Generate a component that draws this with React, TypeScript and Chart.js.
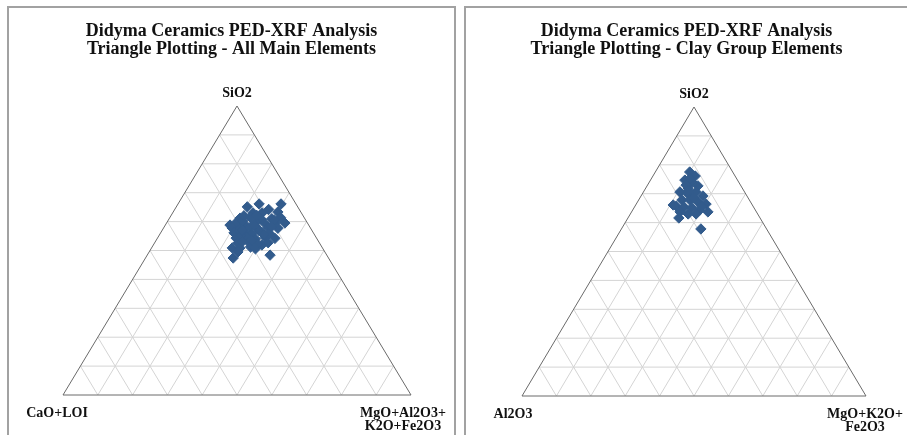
import React, { useEffect, useRef } from "react";
import { Chart, registerables } from "chart.js";

Chart.register(...registerables);

// ---- Panel 1: All main elements (percent) ----
const allSiO2 = [
  65.1, 66.1, 66.1, 63.3, 63.0, 63.0, 58.8, 59.5, 48.4, 50.9, 47.4, 51.9,
  61.2, 61.5, 60.8, 61.0, 61.4, 59.5, 59.2, 59.8, 59.4, 59.6, 57.8, 57.5,
  58.0, 57.6, 57.9, 57.7, 56.1, 56.4, 55.8, 56.2, 55.9, 54.3, 54.6, 54.0,
  54.5, 54.2, 52.6, 52.9, 52.3, 52.7, 50.9, 51.2, 50.6, 62.2, 60.3, 58.5,
  56.8, 55.2, 53.5, 57.0, 55.5, 60.5, 64.2, 49.5, 53.0, 58.2, 62.0,
];
const allCaOLOI = [
  14.5, 10.6, 4.3, 6.6, 13.9, 11.3, 22.6, 6.5, 16.3, 25.9, 27.4, 16.9,
  18.5, 15.4, 12.6, 9.5, 6.8, 20.6, 18.3, 14.8, 12.3, 9.2, 22.5, 20.5,
  17.2, 15.3, 12.1, 9.4, 22.8, 19.6, 17.9, 14.7, 12.7, 23.1, 20.0, 17.7,
  14.6, 12.0, 23.4, 20.2, 18.0, 14.7, 23.7, 20.5, 19.4, 13.3, 18.2, 15.5,
  15.2, 21.3, 19.0, 20.0, 14.5, 9.0, 8.8, 25.0, 22.0, 11.0, 17.0,
];
const allMgOAl2O3K2OFe2O3 = [
  20.4, 23.3, 29.6, 30.1, 23.1, 25.7, 18.6, 34.0, 35.3, 23.2, 25.2, 31.2,
  20.3, 23.1, 26.6, 29.5, 31.8, 19.9, 22.5, 25.4, 28.3, 31.2, 19.7, 22.0,
  24.8, 27.1, 30.0, 32.9, 21.1, 24.0, 26.3, 29.1, 31.4, 22.6, 25.4, 28.3,
  30.9, 33.8, 24.0, 26.9, 29.7, 32.6, 25.4, 28.3, 30.0, 24.5, 21.5, 26.0,
  28.0, 23.5, 27.5, 23.0, 30.0, 30.5, 27.0, 25.5, 25.0, 30.8, 21.0,
];

// ---- Panel 2: Clay group elements ----
const claySiO2 = [
  77.5, 76.1, 74.7, 74.0, 72.0, 72.7, 70.6, 69.9, 70.6, 69.2, 67.8, 67.8,
  67.1, 66.4, 65.7, 65.4, 65.1, 64.4, 63.7, 63.0, 63.0, 61.6, 57.8, 66.1,
  73.0, 68.5, 65.7, 63.7, 71.2, 75.3,
];
const clayAl2O3 = [
  12.5, 11.6, 15.3, 13.6, 15.7, 12.5, 18.8, 16.8, 14.1, 12.8, 19.6, 17.3,
  15.3, 13.3, 22.3, 20.2, 18.1, 16.1, 14.1, 20.2, 17.9, 23.6, 19.1, 23.0,
  15.8, 15.8, 14.9, 22.2, 16.0, 13.5,
];
const clayMgOK2OFe2O3 = [
  10.0, 12.3, 10.0, 12.4, 12.3, 14.8, 10.6, 13.3, 15.3, 18.0, 12.6, 14.9,
  17.6, 20.3, 12.0, 14.4, 16.8, 19.5, 22.2, 16.8, 19.1, 14.8, 23.1, 10.9,
  11.2, 15.7, 19.4, 14.1, 12.8, 11.2,
];

const title1 = ["Didyma Ceramics PED-XRF Analysis", "Triangle Plotting - All Main Elements"];
const title2 = ["Didyma Ceramics PED-XRF Analysis", "Triangle Plotting - Clay Group Elements"];
const topLabel = "SiO2";
const left1 = ["CaO+LOI"];
const right1 = ["MgO+Al2O3+", "K2O+Fe2O3"];
const left2 = ["Al2O3"];
const right2 = ["MgO+K2O+", "Fe2O3"];

const GRID_STEPS = 10;
const SERIF = '"Liberation Serif", "Times New Roman", serif';

function toXY(top: number[], left: number[], right: number[]) {
  return top.map((s, i) => {
    const sum = s + left[i] + right[i];
    const ts = s / sum;
    const tr = right[i] / sum;
    return { x: tr + ts / 2, y: ts };
  });
}

const ternaryPlugin = {
  id: "ternary",
  beforeDatasetsDraw(chart: any) {
    const { ctx } = chart;
    const xs = chart.scales.x;
    const ys = chart.scales.y;
    const P = (r: number, s: number) => [xs.getPixelForValue(r + s / 2), ys.getPixelForValue(s)];
    const line = (a: number[], b: number[]) => {
      ctx.beginPath();
      ctx.moveTo(a[0], a[1]);
      ctx.lineTo(b[0], b[1]);
      ctx.stroke();
    };
    ctx.save();
    ctx.strokeStyle = "#d4d4d4";
    ctx.lineWidth = 1;
    for (let i = 1; i < GRID_STEPS; i++) {
      const t = i / GRID_STEPS;
      line(P(0, t), P(1 - t, t));
      line(P(t, 0), P(t, 1 - t));
      line(P(1 - t, 0), P(0, 1 - t));
    }
    ctx.strokeStyle = "#6a6a6a";
    ctx.beginPath();
    const a = P(0, 0), b = P(1, 0), c = P(0, 1);
    ctx.moveTo(a[0], a[1]);
    ctx.lineTo(b[0], b[1]);
    ctx.lineTo(c[0], c[1]);
    ctx.closePath();
    ctx.stroke();
    ctx.restore();
  },
  afterDraw(chart: any, _args: any, opts: any) {
    const { ctx } = chart;
    const xs = chart.scales.x;
    const ys = chart.scales.y;
    ctx.save();
    ctx.fillStyle = "#111";
    ctx.textAlign = "center";
    ctx.textBaseline = "alphabetic";
    ctx.font = `bold 18px ${SERIF}`;
    const cx = chart.width / 2;
    opts.title.forEach((t: string, i: number) => ctx.fillText(t, cx, 28 + i * 18));
    ctx.font = `bold 14px ${SERIF}`;
    const apexX = xs.getPixelForValue(0.5);
    const apexY = ys.getPixelForValue(1);
    ctx.fillText(opts.top, apexX, apexY - 9);
    const baseY = ys.getPixelForValue(0);
    const lx = xs.getPixelForValue(0) + opts.leftDx;
    const rx = xs.getPixelForValue(1) + opts.rightDx;
    opts.left.forEach((t: string, i: number) => ctx.fillText(t, lx, baseY + 22 + i * 13));
    opts.right.forEach((t: string, i: number) => ctx.fillText(t, rx, baseY + 22 + i * 13));
    ctx.restore();
  },
};

type PanelProps = {
  left: number;
  width: number;
  padding: { left: number; right: number; top: number; bottom: number };
  points: { x: number; y: number }[];
  title: string[];
  leftLabel: string[];
  rightLabel: string[];
  leftDx: number;
  rightDx: number;
};

function TernaryPanel(p: PanelProps) {
  const ref = useRef<HTMLCanvasElement | null>(null);
  useEffect(() => {
    if (!ref.current) return;
    const chart = new Chart(ref.current, {
      type: "scatter",
      data: {
        datasets: [
          {
            data: p.points,
            pointStyle: "rectRot",
            pointRadius: 5.2,
            pointBorderWidth: 1,
            backgroundColor: "#325b8c",
            borderColor: "#325b8c",
          },
        ],
      },
      options: {
        responsive: false,
        animation: false,
        layout: { padding: p.padding },
        scales: {
          x: { type: "linear", min: 0, max: 1, display: false },
          y: { type: "linear", min: 0, max: 1, display: false },
        },
        plugins: {
          legend: { display: false },
          tooltip: { enabled: false },
          title: { display: false },
          ternary: {
            title: p.title,
            top: topLabel,
            left: p.leftLabel,
            right: p.rightLabel,
            leftDx: p.leftDx,
            rightDx: p.rightDx,
          },
        } as any,
      },
      plugins: [ternaryPlugin],
    });
    return () => chart.destroy();
  }, []);
  return (
    <canvas
      ref={ref}
      width={p.width}
      height={427}
      style={{ position: "absolute", left: p.left, top: 8, width: p.width, height: 427 }}
    />
  );
}

export default function App() {
  const pts1 = toXY(allSiO2, allCaOLOI, allMgOAl2O3K2OFe2O3);
  const pts2 = toXY(claySiO2, clayAl2O3, clayMgOK2OFe2O3);
  return (
    <div
      style={{
        position: "absolute",
        left: 0,
        top: 0,
        width: 907,
        height: 435,
        overflow: "hidden",
        background: "#fff",
      }}
    >
      <div
        style={{
          position: "absolute",
          left: 7,
          top: 6,
          width: 449,
          height: 470,
          boxSizing: "border-box",
          border: "2px solid #a2a2a2",
        }}
      />
      <div
        style={{
          position: "absolute",
          left: 464,
          top: 6,
          width: 470,
          height: 470,
          boxSizing: "border-box",
          border: "2px solid #a2a2a2",
        }}
      />
      <TernaryPanel
        left={9}
        width={445}
        padding={{ left: 54, right: 43, top: 98, bottom: 40 }}
        points={pts1}
        title={title1}
        leftLabel={left1}
        rightLabel={right1}
        leftDx={-6}
        rightDx={-8}
      />
      <TernaryPanel
        left={466}
        width={441}
        padding={{ left: 56, right: 41, top: 99, bottom: 39 }}
        points={pts2}
        title={title2}
        leftLabel={left2}
        rightLabel={right2}
        leftDx={-9}
        rightDx={-1}
      />
    </div>
  );
}
